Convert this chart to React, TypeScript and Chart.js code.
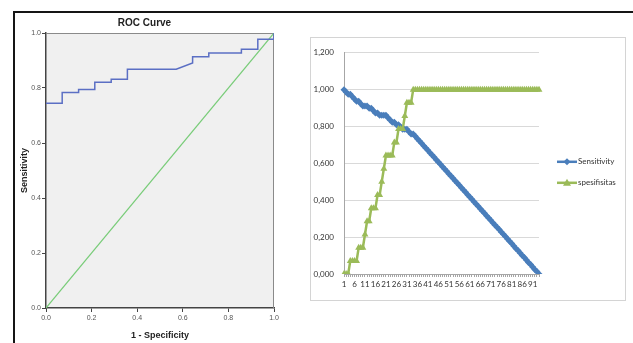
import React, { useEffect, useRef } from "react";
import { Chart, registerables } from "chart.js";
Chart.register(...registerables);

// ---------- Left chart: ROC curve ----------
const rocFpr = [0, 0.071, 0.071, 0.143, 0.143, 0.214, 0.214, 0.286, 0.286, 0.357, 0.357, 0.571, 0.643, 0.643, 0.714, 0.714, 0.857, 0.857, 0.929, 0.929, 1, 1];
const rocSens = [0.745, 0.745, 0.784, 0.784, 0.795, 0.795, 0.821, 0.821, 0.832, 0.832, 0.868, 0.868, 0.891, 0.914, 0.914, 0.927, 0.927, 0.941, 0.941, 0.977, 0.977, 1];
const refFpr = [0, 1];
const refSens = [0, 1];

// ---------- Right chart: sensitivity / spesifisitas per case ----------
const caseLabels = [
  "1", "2", "3", "4", "5", "6", "7", "8", "9", "10",
  "11", "12", "13", "14", "15", "16", "17", "18", "19", "20",
  "21", "22", "23", "24", "25", "26", "27", "28", "29", "30",
  "31", "32", "33", "34", "35", "36", "37", "38", "39", "40",
  "41", "42", "43", "44", "45", "46", "47", "48", "49", "50",
  "51", "52", "53", "54", "55", "56", "57", "58", "59", "60",
  "61", "62", "63", "64", "65", "66", "67", "68", "69", "70",
  "71", "72", "73", "74", "75", "76", "77", "78", "79", "80",
  "81", "82", "83", "84", "85", "86", "87", "88", "89", "90",
  "91", "92", "93", "94",
];
const sensitivity = [
  1.000, 0.987, 0.975, 0.975, 0.962, 0.949, 0.937, 0.937, 0.924, 0.911,
  0.911, 0.911, 0.899, 0.899, 0.886, 0.873, 0.873, 0.861, 0.861, 0.861,
  0.861, 0.848, 0.835, 0.823, 0.823, 0.810, 0.810, 0.797, 0.785, 0.785,
  0.785, 0.772, 0.759, 0.759, 0.747, 0.734, 0.722, 0.709, 0.696, 0.684,
  0.671, 0.658, 0.646, 0.633, 0.620, 0.608, 0.595, 0.582, 0.570, 0.557,
  0.544, 0.532, 0.519, 0.506, 0.494, 0.481, 0.468, 0.456, 0.443, 0.430,
  0.418, 0.405, 0.392, 0.380, 0.367, 0.354, 0.342, 0.329, 0.316, 0.304,
  0.291, 0.278, 0.266, 0.253, 0.241, 0.228, 0.215, 0.203, 0.190, 0.177,
  0.165, 0.152, 0.139, 0.127, 0.114, 0.101, 0.089, 0.076, 0.063, 0.051,
  0.038, 0.025, 0.013, 0.000,
];
const spesifisitas = [
  0, 0, 0, 0.071, 0.071, 0.071, 0.071, 0.143, 0.143, 0.143,
  0.214, 0.286, 0.286, 0.357, 0.357, 0.357, 0.429, 0.429, 0.500, 0.571,
  0.643, 0.643, 0.643, 0.643, 0.714, 0.714, 0.786, 0.786, 0.786, 0.857,
  0.929, 0.929, 0.929, 1.000, 1.000, 1.000, 1.000, 1.000, 1.000, 1.000,
  1.000, 1.000, 1.000, 1.000, 1.000, 1.000, 1.000, 1.000, 1.000, 1.000,
  1.000, 1.000, 1.000, 1.000, 1.000, 1.000, 1.000, 1.000, 1.000, 1.000,
  1.000, 1.000, 1.000, 1.000, 1.000, 1.000, 1.000, 1.000, 1.000, 1.000,
  1.000, 1.000, 1.000, 1.000, 1.000, 1.000, 1.000, 1.000, 1.000, 1.000,
  1.000, 1.000, 1.000, 1.000, 1.000, 1.000, 1.000, 1.000, 1.000, 1.000,
  1.000, 1.000, 1.000, 1.000,
];

const SANS = '"Liberation Sans", Arial, sans-serif';
const EXCEL = 'Lato, "Open Sans", sans-serif';

function RocChart() {
  const ref = useRef<HTMLCanvasElement>(null);
  useEffect(() => {
    const plotBg = {
      id: "plotBg",
      beforeDraw(chart: any) {
        const { ctx, chartArea: a } = chart;
        ctx.save();
        ctx.fillStyle = "#f0f0f0";
        ctx.fillRect(a.left, a.top, a.right - a.left, a.bottom - a.top);
        ctx.restore();
      },
      beforeDatasetsDraw(chart: any) {
        const { ctx, chartArea: a } = chart;
        ctx.save();
        ctx.strokeStyle = "#8a8a8a";
        ctx.lineWidth = 1;
        ctx.beginPath();
        ctx.moveTo(a.left, a.top + 0.5);
        ctx.lineTo(a.right - 0.5, a.top + 0.5);
        ctx.lineTo(a.right - 0.5, a.bottom);
        ctx.stroke();
        ctx.restore();
      },
    };
    const chart = new Chart(ref.current as HTMLCanvasElement, {
      type: "scatter",
      data: {
        datasets: [
          {
            label: "ROC",
            data: rocFpr.map((x, i) => ({ x, y: rocSens[i] })),
            showLine: true,
            borderColor: "#5b6fc4",
            borderWidth: 1.5,
            pointRadius: 0,
            tension: 0,
          },
          {
            label: "Reference",
            data: refFpr.map((x, i) => ({ x, y: refSens[i] })),
            showLine: true,
            borderColor: "#78cc78",
            borderWidth: 1.2,
            pointRadius: 0,
          },
        ],
      },
      options: {
        responsive: false,
        animation: false,
        layout: { padding: { left: 0, right: 26, top: 0, bottom: 0 } },
        plugins: {
          legend: { display: false },
          tooltip: { enabled: false },
          title: {
            display: true,
            text: "ROC Curve",
            font: { family: SANS, size: 10, weight: "bold" },
            color: "#222",
            padding: { top: 4, bottom: 4 },
          },
        },
        scales: {
          x: {
            type: "linear",
            min: 0,
            max: 1,
            z: 1,
            ticks: {
              stepSize: 0.2,
              callback: (v: any) => Number(v).toFixed(1),
              font: { family: SANS, size: 7 },
              color: "#555",
              padding: 2,
              maxRotation: 0,
            },
            grid: { drawOnChartArea: false, drawTicks: true, tickLength: 4, tickColor: "#444" },
            border: { display: true, color: "#444", width: 1.5 },
            title: {
              display: true,
              text: "1 - Specificity",
              font: { family: SANS, size: 9, weight: "bold" },
              color: "#222",
              padding: { top: 0, bottom: 2 },
            },
            afterFit: (s: any) => {
              s.height = 35;
            },
          },
          y: {
            type: "linear",
            min: 0,
            max: 1,
            z: 1,
            ticks: {
              stepSize: 0.2,
              callback: (v: any) => Number(v).toFixed(1),
              font: { family: SANS, size: 7 },
              color: "#555",
              padding: 1,
            },
            grid: { drawOnChartArea: false, drawTicks: true, tickLength: 4, tickColor: "#444" },
            border: { display: true, color: "#444", width: 1.5 },
            title: {
              display: true,
              text: "Sensitivity",
              font: { family: SANS, size: 9, weight: "bold" },
              color: "#222",
              padding: { top: 4, bottom: 0 },
            },
            afterFit: (s: any) => {
              s.width = 31;
            },
          },
        },
      } as any,
      plugins: [plotBg],
    });
    return () => chart.destroy();
  }, []);
  return (
    <canvas
      ref={ref}
      width={285}
      height={330}
      style={{ position: "absolute", left: 15, top: 13, width: 285, height: 330 }}
    />
  );
}

function ExcelChart() {
  const ref = useRef<HTMLCanvasElement>(null);
  useEffect(() => {
    const sideLegend = {
      id: "sideLegend",
      afterDraw(chart: any) {
        const { ctx, chartArea } = chart;
        const x = chartArea.right + 18;
        const rowsY = [chartArea.top + 109, chartArea.top + 130];
        chart.data.datasets.forEach((ds: any, i: number) => {
          const y = rowsY[i];
          ctx.save();
          ctx.strokeStyle = ds.borderColor;
          ctx.lineWidth = 2.5;
          ctx.beginPath();
          ctx.moveTo(x, y);
          ctx.lineTo(x + 20, y);
          ctx.stroke();
          ctx.fillStyle = ds.borderColor;
          const cx = x + 10;
          ctx.beginPath();
          if (ds.pointStyle === "triangle") {
            const r = 4;
            ctx.moveTo(cx, y - r);
            ctx.lineTo(cx + r, y + r * 0.75);
            ctx.lineTo(cx - r, y + r * 0.75);
          } else {
            const r = 3.5;
            ctx.moveTo(cx, y - r);
            ctx.lineTo(cx + r, y);
            ctx.lineTo(cx, y + r);
            ctx.lineTo(cx - r, y);
          }
          ctx.closePath();
          ctx.fill();
          ctx.fillStyle = "#333";
          ctx.font = `8px ${EXCEL}`;
          ctx.textBaseline = "middle";
          ctx.textAlign = "left";
          ctx.fillText(ds.label, x + 21, y);
          ctx.restore();
        });
      },
    };
    const chart = new Chart(ref.current as HTMLCanvasElement, {
      type: "line",
      data: {
        labels: caseLabels,
        datasets: [
          {
            label: "Sensitivity",
            data: sensitivity,
            borderColor: "#4a7ebb",
            backgroundColor: "#4a7ebb",
            borderWidth: 2.5,
            pointStyle: "rectRot",
            pointRadius: 3.5,
            pointBorderWidth: 0,
            pointBackgroundColor: "#4a7ebb",
            tension: 0,
            order: 1,
          },
          {
            label: "spesifisitas",
            data: spesifisitas,
            borderColor: "#9bbb59",
            backgroundColor: "#9bbb59",
            borderWidth: 2.5,
            pointStyle: "triangle",
            pointRadius: 4,
            pointBorderWidth: 0,
            pointBackgroundColor: "#9bbb59",
            tension: 0,
            order: 0,
          },
        ],
      },
      options: {
        responsive: false,
        animation: false,
        layout: { padding: { left: 0, right: 86, top: 12, bottom: 0 } },
        plugins: {
          legend: { display: false },
          tooltip: { enabled: false },
          title: { display: false },
        },
        scales: {
          x: {
            type: "category",
            offset: false,
            ticks: {
              autoSkip: false,
              maxRotation: 0,
              minRotation: 0,
              callback: (_v: any, i: number) => (i % 5 === 0 ? caseLabels[i] : ""),
              font: { family: EXCEL, size: 8 },
              color: "#333",
              padding: 3,
            },
            grid: { drawOnChartArea: false, drawTicks: true, tickLength: 3, tickColor: "#a6a6a6" },
            border: { display: true, color: "#a6a6a6", width: 1 },
            afterFit: (s: any) => {
              s.height = 26;
            },
          },
          y: {
            min: 0,
            max: 1.2,
            ticks: {
              stepSize: 0.2,
              callback: (v: any) => Number(v).toFixed(3).replace(".", ","),
              font: { family: EXCEL, size: 8 },
              color: "#333",
              padding: 10,
            },
            grid: { color: "#d9d9d9", drawTicks: false },
            border: { display: true, color: "#a6a6a6", width: 1 },
            afterFit: (s: any) => {
              s.width = 33;
            },
          },
        },
      } as any,
      plugins: [sideLegend],
    });
    return () => chart.destroy();
  }, []);
  return (
    <canvas
      ref={ref}
      width={314}
      height={262}
      style={{ position: "absolute", left: 0, top: 0, width: 314, height: 262 }}
    />
  );
}

export default function App() {
  return (
    <div
      style={{
        position: "absolute",
        left: 0,
        top: 0,
        width: 633,
        height: 343,
        background: "#fff",
        overflow: "hidden",
      }}
    >
      <div
        style={{
          position: "absolute",
          left: 13,
          top: 11,
          width: 640,
          height: 340,
          borderTop: "2px solid #151515",
          borderLeft: "2px solid #151515",
        }}
      />
      <RocChart />
      <div
        style={{
          position: "absolute",
          left: 310,
          top: 37,
          width: 314,
          height: 262,
          border: "1px solid #d4d4d4",
        }}
      >
        <ExcelChart />
      </div>
    </div>
  );
}
